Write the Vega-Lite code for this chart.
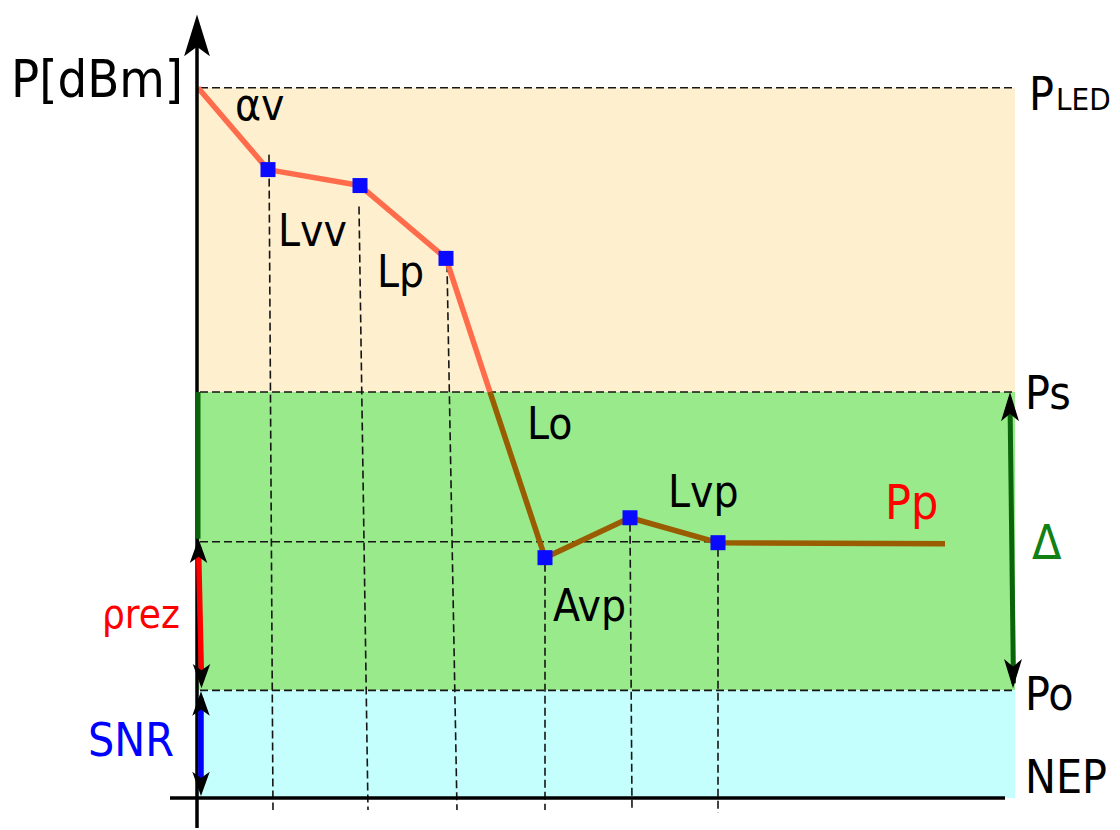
{
  "$schema": "https://vega.github.io/schema/vega-lite/v6.json",
  "width": 1120,
  "height": 830,
  "autosize": {"type": "fit", "contains": "padding"},
  "padding": 0,
  "background": "white",
  "config": {"view": {"stroke": null}, "text": {"font": "DejaVu Sans Condensed", "align": "left", "baseline": "alphabetic"}},
  "datasets": {
    "bands": [
      {"zone": "sat", "x": -0.3, "x2": 81.5, "y": 40.7, "y2": 71.2},
      {"zone": "din", "x": -0.3, "x2": 81.5, "y": 10.8, "y2": 40.7},
      {"zone": "sum", "x": -0.3, "x2": 81.5, "y": 0, "y2": 10.8}
    ],
    "guides": [
      {"name": "PLED", "x": 0, "x2": 81.5, "y": 71.2, "y2": 71.2},
      {"name": "Ps", "x": 0, "x2": 81.5, "y": 40.7, "y2": 40.7},
      {"name": "Pp", "x": 0, "x2": 73.5, "y": 25.7, "y2": 25.7},
      {"name": "Po", "x": 0, "x2": 81.5, "y": 10.8, "y2": 10.8},
      {"name": "v1", "x": 6.9, "x2": 7.3, "y": 64.5, "y2": -1.2},
      {"name": "v2", "x": 15.9, "x2": 16.8, "y": 59.3, "y2": -1.2},
      {"name": "v3", "x": 24.7, "x2": 25.7, "y": 53.5, "y2": -1.2},
      {"name": "v4", "x": 34.5, "x2": 34.5, "y": 23.5, "y2": -1.2},
      {"name": "v5", "x": 43.0, "x2": 43.2, "y": 27.5, "y2": -1.0},
      {"name": "v6", "x": 51.8, "x2": 51.8, "y": 25.0, "y2": -1.5}
    ],
    "curve": [
      {"seg": "a", "i": 0, "x": -0.2, "y": 71.2},
      {"seg": "a", "i": 1, "x": 6.8, "y": 63.0},
      {"seg": "a", "i": 2, "x": 16.0, "y": 61.4},
      {"seg": "a", "i": 3, "x": 24.6, "y": 54.1},
      {"seg": "a", "i": 4, "x": 29.0, "y": 40.7},
      {"seg": "b", "i": 0, "x": 29.0, "y": 40.7},
      {"seg": "b", "i": 1, "x": 34.5, "y": 24.1},
      {"seg": "b", "i": 2, "x": 43.0, "y": 28.1},
      {"seg": "b", "i": 3, "x": 51.8, "y": 25.6},
      {"seg": "b", "i": 4, "x": 74.5, "y": 25.5}
    ],
    "nodes": [
      {"x": 6.8, "y": 63.0},
      {"x": 16.0, "y": 61.4},
      {"x": 24.6, "y": 54.1},
      {"x": 34.5, "y": 24.1},
      {"x": 43.0, "y": 28.1},
      {"x": 51.8, "y": 25.6}
    ],
    "axes": [
      {"name": "P", "x": -0.3, "x2": -0.3, "y": -3, "y2": 76},
      {"name": "L", "x": -3, "x2": 80.5, "y": 0, "y2": 0}
    ],
    "spans": [
      {"name": "g", "x": -0.2, "x2": -0.2, "y": 40.7, "y2": 26.0},
      {"name": "rez", "x": -0.15, "x2": 0.15, "y": 25.2, "y2": 11.8},
      {"name": "snr", "x": 0.1, "x2": 0.1, "y": 10.0, "y2": 1.0},
      {"name": "delta", "x": 81.0, "x2": 81.35, "y": 39.8, "y2": 11.5}
    ],
    "heads": [
      {"kind": "big", "x": -0.3, "y": 76.4},
      {"kind": "up", "x": -0.15, "y": 24.75},
      {"kind": "down", "x": 0.15, "y": 12.25},
      {"kind": "up", "x": 0.1, "y": 9.45},
      {"kind": "down", "x": 0.1, "y": 1.45},
      {"kind": "mup", "x": 81.0, "y": 39.2},
      {"kind": "mdown", "x": 81.3, "y": 12.5}
    ],
    "labels": [
      {"kind": "title", "t": "P[dBm]", "x": -18.9, "y": 70.3},
      {"kind": "seg", "t": "αv", "x": 3.5, "y": 68.0},
      {"kind": "seg", "t": "Lvv", "x": 7.8, "y": 55.3},
      {"kind": "seg", "t": "Lp", "x": 17.7, "y": 51.2},
      {"kind": "seg", "t": "Lo", "x": 32.7, "y": 36.0},
      {"kind": "seg", "t": "Lvp", "x": 46.8, "y": 29.2},
      {"kind": "seg", "t": "Avp", "x": 35.3, "y": 17.8},
      {"kind": "lvl", "t": "P", "x": 82.9, "y": 69.0},
      {"kind": "sub", "t": "LED", "x": 85.6, "y": 69.0},
      {"kind": "lvl", "t": "Ps", "x": 82.5, "y": 39.0},
      {"kind": "lvl", "t": "Po", "x": 82.5, "y": 8.8},
      {"kind": "lvl", "t": "NEP", "x": 82.5, "y": 0.5},
      {"kind": "red", "t": "Pp", "x": 68.5, "y": 28.0},
      {"kind": "rez", "t": "ρrez", "x": -9.8, "y": 17.0},
      {"kind": "blue", "t": "SNR", "x": -11.2, "y": 4.2},
      {"kind": "green", "t": "Δ", "x": 83.2, "y": 24.0}
    ]
  },
  "encoding": {
    "x": {"field": "x", "type": "quantitative", "scale": {"domain": [-20, 92], "nice": false, "zero": false}, "axis": null},
    "y": {"field": "y", "type": "quantitative", "scale": {"domain": [-3, 80], "nice": false, "zero": false}, "axis": null}
  },
  "layer": [
    {"data": {"name": "bands"}, "transform": [{"filter": "datum.zone == 'sat'"}], "mark": {"type": "rect", "color": "#FEF0CF"}, "encoding": {"x2": {"field": "x2"}, "y2": {"field": "y2"}}},
    {"data": {"name": "bands"}, "transform": [{"filter": "datum.zone == 'din'"}], "mark": {"type": "rect", "color": "#98EA8A"}, "encoding": {"x2": {"field": "x2"}, "y2": {"field": "y2"}}},
    {"data": {"name": "bands"}, "transform": [{"filter": "datum.zone == 'sum'"}], "mark": {"type": "rect", "color": "#C4FFFE"}, "encoding": {"x2": {"field": "x2"}, "y2": {"field": "y2"}}},
    {"data": {"name": "guides"}, "mark": {"type": "rule", "color": "#151515", "strokeWidth": 1.6, "strokeDash": [8, 4]}, "encoding": {"x2": {"field": "x2"}, "y2": {"field": "y2"}}},
    {"data": {"name": "curve"}, "transform": [{"filter": "datum.seg == 'a'"}], "mark": {"type": "line", "color": "#FF6C4C", "strokeWidth": 5.5, "strokeJoin": "round"}, "encoding": {"order": {"field": "i", "type": "quantitative"}}},
    {"data": {"name": "curve"}, "transform": [{"filter": "datum.seg == 'b'"}], "mark": {"type": "line", "color": "#9A5C00", "strokeWidth": 5.5, "strokeJoin": "round"}, "encoding": {"order": {"field": "i", "type": "quantitative"}}},
    {"data": {"name": "nodes"}, "mark": {"type": "point", "shape": "square", "filled": true, "color": "#0A0AFF", "opacity": 1, "size": 225}},
    {"data": {"name": "axes"}, "mark": {"type": "rule", "color": "black", "strokeWidth": 3.5}, "encoding": {"x2": {"field": "x2"}, "y2": {"field": "y2"}}},
    {"data": {"name": "spans"}, "transform": [{"filter": "datum.name == 'g' || datum.name == 'delta'"}], "mark": {"type": "rule", "color": "#0B640B", "strokeWidth": 5}, "encoding": {"x2": {"field": "x2"}, "y2": {"field": "y2"}}},
    {"data": {"name": "spans"}, "transform": [{"filter": "datum.name == 'rez'"}], "mark": {"type": "rule", "color": "#FF0000", "strokeWidth": 5.5}, "encoding": {"x2": {"field": "x2"}, "y2": {"field": "y2"}}},
    {"data": {"name": "spans"}, "transform": [{"filter": "datum.name == 'snr'"}], "mark": {"type": "rule", "color": "#0000FF", "strokeWidth": 5.5}, "encoding": {"x2": {"field": "x2"}, "y2": {"field": "y2"}}},
    {"data": {"name": "heads"}, "transform": [{"filter": "datum.kind == 'big'"}], "mark": {"type": "point", "shape": "M0,-1L0.6,0.95L0,0.5L-0.6,0.95Z", "filled": true, "color": "black", "opacity": 1, "size": 1849}},
    {"data": {"name": "heads"}, "transform": [{"filter": "datum.kind == 'up'"}], "mark": {"type": "point", "shape": "M0,-1L0.7,0.95L0,0.45L-0.7,0.95Z", "filled": true, "color": "black", "opacity": 1, "size": 625}},
    {"data": {"name": "heads"}, "transform": [{"filter": "datum.kind == 'down'"}], "mark": {"type": "point", "shape": "M0,1L0.7,-0.95L0,-0.45L-0.7,-0.95Z", "filled": true, "color": "black", "opacity": 1, "size": 625}},
    {"data": {"name": "heads"}, "transform": [{"filter": "datum.kind == 'mup'"}], "mark": {"type": "point", "shape": "M0,-1L0.6,0.95L0,0.45L-0.6,0.95Z", "filled": true, "color": "black", "opacity": 1, "size": 900}},
    {"data": {"name": "heads"}, "transform": [{"filter": "datum.kind == 'mdown'"}], "mark": {"type": "point", "shape": "M0,1L0.6,-0.95L0,-0.45L-0.6,-0.95Z", "filled": true, "color": "black", "opacity": 1, "size": 900}},
    {"data": {"name": "labels"}, "transform": [{"filter": "datum.kind == 'title'"}], "mark": {"type": "text", "fontSize": 52, "color": "black"}, "encoding": {"text": {"field": "t"}}},
    {"data": {"name": "labels"}, "transform": [{"filter": "datum.kind == 'seg'"}], "mark": {"type": "text", "fontSize": 44, "color": "black"}, "encoding": {"text": {"field": "t"}}},
    {"data": {"name": "labels"}, "transform": [{"filter": "datum.kind == 'sub'"}], "mark": {"type": "text", "fontSize": 31, "color": "black"}, "encoding": {"text": {"field": "t"}}},
    {"data": {"name": "labels"}, "transform": [{"filter": "datum.kind == 'lvl'"}], "mark": {"type": "text", "fontSize": 46, "color": "black"}, "encoding": {"text": {"field": "t"}}},
    {"data": {"name": "labels"}, "transform": [{"filter": "datum.kind == 'red'"}], "mark": {"type": "text", "fontSize": 48, "color": "#FF0000"}, "encoding": {"text": {"field": "t"}}},
    {"data": {"name": "labels"}, "transform": [{"filter": "datum.kind == 'rez'"}], "mark": {"type": "text", "fontSize": 40, "color": "#FF0000"}, "encoding": {"text": {"field": "t"}}},
    {"data": {"name": "labels"}, "transform": [{"filter": "datum.kind == 'blue'"}], "mark": {"type": "text", "fontSize": 46, "color": "#0000FF"}, "encoding": {"text": {"field": "t"}}},
    {"data": {"name": "labels"}, "transform": [{"filter": "datum.kind == 'green'"}], "mark": {"type": "text", "fontSize": 48, "color": "#128012"}, "encoding": {"text": {"field": "t"}}}
  ]
}
